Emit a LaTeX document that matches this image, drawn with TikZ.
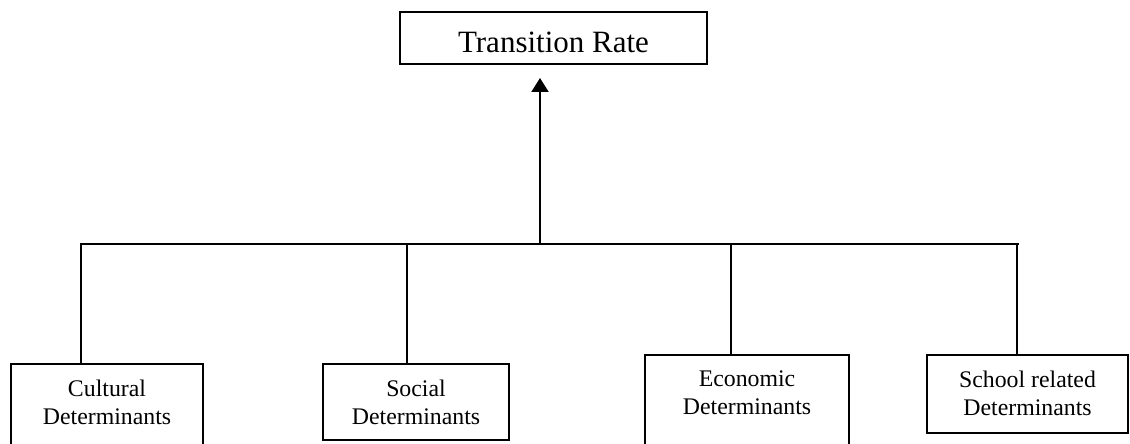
\documentclass[tikz,border=0pt]{standalone}
\usepackage{fontspec}
\setmainfont{Liberation Serif}
\usetikzlibrary {arrows.meta,positioning}

\begin{document}
\begin{tikzpicture}[x=0.5pt,y=-0.5pt,line width=1pt,
        detbox/.style={draw,inner sep=0pt,anchor=north},
        dettext/.style={align=center,inner sep=0pt,anchor=north,font=\fontsize{11.9}{14}\selectfont}]
        \useasboundingbox (0,0) rectangle (1130,444);
        \clip (0,0) rectangle (1130,444);
        \node[detbox,font=\fontsize{15.5}{18}\selectfont,minimum width=153.5pt,text height=20.5pt,text depth=5.5pt] (rate) at (553.5,11) {Transition Rate};
        \node[detbox,minimum width=96pt,minimum height=60pt] (cult) at (107,363) {};
        \node[detbox,minimum width=93pt,minimum height=38pt] (soc) at (416,363) {};
        \node[detbox,minimum width=102pt,minimum height=60pt] (econ) at (747,354) {};
        \node[detbox,minimum width=100.5pt,minimum height=39pt] (school) at (1027.5,354) {};
        \node[dettext] (cultT) at ([yshift=-8pt]cult.north) {Cultural\\Determinants};
        \node[dettext] (socT) at ([yshift=-8pt]soc.north) {Social\\Determinants};
        \node[dettext] (econT) at ([yshift=-8pt]econ.north) {Economic\\Determinants};
        \node[dettext] (schoolT) at ([yshift=-8pt]school.north) {School related\\Determinants};
        \coordinate (cultJ) at (81,244);
        \coordinate (socJ) at (407,244);
        \coordinate (hub) at (540,244);
        \coordinate (econJ) at (731,244);
        \coordinate (schoolJ) at (1017,244);
        \draw ([xshift=-0.5pt]cultJ) -- ([xshift=1pt]schoolJ);
        \draw (cultJ) -- (cultJ |- cult.north);
        \draw (socJ) -- (socJ |- soc.north);
        \draw (econJ) -- (econJ |- econ.north);
        \draw (schoolJ) -- (schoolJ |- school.north);
        \draw[-{Triangle[width=8.5pt,length=7pt]},shorten >=6.5pt] (hub) -- (hub |- rate.south);
      \end{tikzpicture}
\end{document}
